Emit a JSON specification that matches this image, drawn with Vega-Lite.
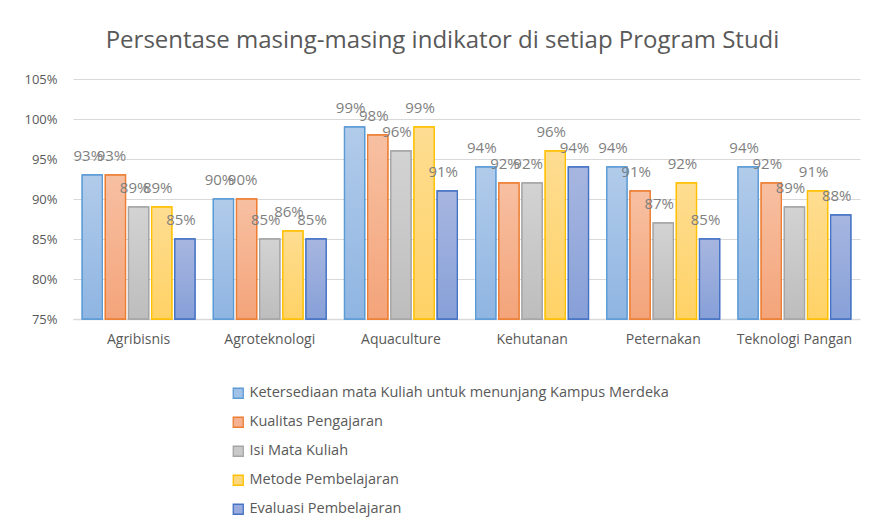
{
  "$schema": "https://vega.github.io/schema/vega-lite/v6.json",
  "autosize": "none",
  "width": 787,
  "height": 240,
  "padding": {"left": 73, "top": 79, "right": 9, "bottom": 210},
  "background": "white",
  "title": {
    "text": "Persentase masing-masing indikator di setiap Program Studi",
    "font": "Open Sans",
    "fontSize": 24,
    "fontWeight": "normal",
    "color": "#595959",
    "anchor": "middle",
    "offset": 20,
    "dx": -24
  },
  "config": {
    "view": {"stroke": null},
    "font": "Open Sans"
  },
  "data": {
    "values": [
      {"prodi": "Agribisnis", "indikator": "Ketersediaan mata Kuliah untuk menunjang Kampus Merdeka", "nilai": 0.93},
      {"prodi": "Agribisnis", "indikator": "Kualitas Pengajaran", "nilai": 0.93},
      {"prodi": "Agribisnis", "indikator": "Isi Mata Kuliah", "nilai": 0.89},
      {"prodi": "Agribisnis", "indikator": "Metode Pembelajaran", "nilai": 0.89},
      {"prodi": "Agribisnis", "indikator": "Evaluasi Pembelajaran", "nilai": 0.85},
      {"prodi": "Agroteknologi", "indikator": "Ketersediaan mata Kuliah untuk menunjang Kampus Merdeka", "nilai": 0.90},
      {"prodi": "Agroteknologi", "indikator": "Kualitas Pengajaran", "nilai": 0.90},
      {"prodi": "Agroteknologi", "indikator": "Isi Mata Kuliah", "nilai": 0.85},
      {"prodi": "Agroteknologi", "indikator": "Metode Pembelajaran", "nilai": 0.86},
      {"prodi": "Agroteknologi", "indikator": "Evaluasi Pembelajaran", "nilai": 0.85},
      {"prodi": "Aquaculture", "indikator": "Ketersediaan mata Kuliah untuk menunjang Kampus Merdeka", "nilai": 0.99},
      {"prodi": "Aquaculture", "indikator": "Kualitas Pengajaran", "nilai": 0.98},
      {"prodi": "Aquaculture", "indikator": "Isi Mata Kuliah", "nilai": 0.96},
      {"prodi": "Aquaculture", "indikator": "Metode Pembelajaran", "nilai": 0.99},
      {"prodi": "Aquaculture", "indikator": "Evaluasi Pembelajaran", "nilai": 0.91},
      {"prodi": "Kehutanan", "indikator": "Ketersediaan mata Kuliah untuk menunjang Kampus Merdeka", "nilai": 0.94},
      {"prodi": "Kehutanan", "indikator": "Kualitas Pengajaran", "nilai": 0.92},
      {"prodi": "Kehutanan", "indikator": "Isi Mata Kuliah", "nilai": 0.92},
      {"prodi": "Kehutanan", "indikator": "Metode Pembelajaran", "nilai": 0.96},
      {"prodi": "Kehutanan", "indikator": "Evaluasi Pembelajaran", "nilai": 0.94},
      {"prodi": "Peternakan", "indikator": "Ketersediaan mata Kuliah untuk menunjang Kampus Merdeka", "nilai": 0.94},
      {"prodi": "Peternakan", "indikator": "Kualitas Pengajaran", "nilai": 0.91},
      {"prodi": "Peternakan", "indikator": "Isi Mata Kuliah", "nilai": 0.87},
      {"prodi": "Peternakan", "indikator": "Metode Pembelajaran", "nilai": 0.92},
      {"prodi": "Peternakan", "indikator": "Evaluasi Pembelajaran", "nilai": 0.85},
      {"prodi": "Teknologi Pangan", "indikator": "Ketersediaan mata Kuliah untuk menunjang Kampus Merdeka", "nilai": 0.94},
      {"prodi": "Teknologi Pangan", "indikator": "Kualitas Pengajaran", "nilai": 0.92},
      {"prodi": "Teknologi Pangan", "indikator": "Isi Mata Kuliah", "nilai": 0.89},
      {"prodi": "Teknologi Pangan", "indikator": "Metode Pembelajaran", "nilai": 0.91},
      {"prodi": "Teknologi Pangan", "indikator": "Evaluasi Pembelajaran", "nilai": 0.88}
    ]
  },
  "encoding": {
    "x": {
      "field": "prodi",
      "type": "nominal",
      "sort": null,
      "scale": {"paddingInner": 0.14, "paddingOuter": 0.07},
      "axis": {
        "title": null,
        "labelAngle": 0,
        "labelFontSize": 14,
        "labelColor": "#595959",
        "labelPadding": 13,
        "ticks": false,
        "domainColor": "#d9d9d9",
        "domainWidth": 1.5
      }
    },
    "xOffset": {
      "field": "indikator",
      "type": "nominal",
      "sort": null,
      "scale": {
        "domain": ["Ketersediaan mata Kuliah untuk menunjang Kampus Merdeka", "Kualitas Pengajaran", "Isi Mata Kuliah", "Metode Pembelajaran", "Evaluasi Pembelajaran"],
        "paddingInner": 0.13
      }
    },
    "y": {
      "field": "nilai",
      "type": "quantitative",
      "scale": {"domain": [0.75, 1.05], "zero": false, "nice": false},
      "axis": {
        "title": null,
        "format": ".0%",
        "values": [0.75, 0.8, 0.85, 0.9, 0.95, 1.0, 1.05],
        "labelFontSize": 13,
        "labelColor": "#595959",
        "labelPadding": 16,
        "ticks": false,
        "domain": false,
        "gridColor": "#d9d9d9",
        "gridWidth": 1
      }
    }
  },
  "layer": [
    {
      "mark": {"type": "bar", "strokeWidth": 1.3},
      "encoding": {
        "y2": {"datum": 0.75},
        "fill": {
          "field": "indikator",
          "type": "nominal",
          "sort": null,
          "scale": {
            "domain": ["Ketersediaan mata Kuliah untuk menunjang Kampus Merdeka", "Kualitas Pengajaran", "Isi Mata Kuliah", "Metode Pembelajaran", "Evaluasi Pembelajaran"],
            "range": ["#a1c2e7", "#f5b292", "#c9c9c9", "#fed77d", "#98abdc"]
          },
          "legend": {
            "title": null,
            "orient": "none",
            "legendX": 158,
            "legendY": 307,
            "direction": "vertical",
            "symbolType": "square",
            "symbolSize": 100,
            "symbolStrokeWidth": 1.3,
            "labelFontSize": 14.5,
            "labelColor": "#595959",
            "labelLimit": 600,
            "rowPadding": 13,
            "labelOffset": 4
          }
        },
        "stroke": {
          "field": "indikator",
          "type": "nominal",
          "sort": null,
          "scale": {
            "domain": ["Ketersediaan mata Kuliah untuk menunjang Kampus Merdeka", "Kualitas Pengajaran", "Isi Mata Kuliah", "Metode Pembelajaran", "Evaluasi Pembelajaran"],
            "range": ["#5b9bd5", "#ed7d31", "#a5a5a5", "#ffc000", "#4472c4"]
          },
          "legend": null
        }
      }
    },
    {
      "transform": [{"filter": "datum.indikator === 'Ketersediaan mata Kuliah untuk menunjang Kampus Merdeka'"}],
      "mark": {"type": "bar", "strokeWidth": 1.3, "stroke": "#5b9bd5",
        "fill": {"gradient": "linear", "x1": 0, "y1": 0, "x2": 0, "y2": 1, "stops": [{"offset": 0, "color": "#b1cbea"}, {"offset": 1, "color": "#8fb5e2"}]}},
      "encoding": {"y2": {"datum": 0.75}}
    },
    {
      "transform": [{"filter": "datum.indikator === 'Kualitas Pengajaran'"}],
      "mark": {"type": "bar", "strokeWidth": 1.3, "stroke": "#ed7d31",
        "fill": {"gradient": "linear", "x1": 0, "y1": 0, "x2": 0, "y2": 1, "stops": [{"offset": 0, "color": "#f7c0a2"}, {"offset": 1, "color": "#f4a47a"}]}},
      "encoding": {"y2": {"datum": 0.75}}
    },
    {
      "transform": [{"filter": "datum.indikator === 'Isi Mata Kuliah'"}],
      "mark": {"type": "bar", "strokeWidth": 1.3, "stroke": "#a5a5a5",
        "fill": {"gradient": "linear", "x1": 0, "y1": 0, "x2": 0, "y2": 1, "stops": [{"offset": 0, "color": "#d3d3d3"}, {"offset": 1, "color": "#bdbdbd"}]}},
      "encoding": {"y2": {"datum": 0.75}}
    },
    {
      "transform": [{"filter": "datum.indikator === 'Metode Pembelajaran'"}],
      "mark": {"type": "bar", "strokeWidth": 1.3, "stroke": "#ffc000",
        "fill": {"gradient": "linear", "x1": 0, "y1": 0, "x2": 0, "y2": 1, "stops": [{"offset": 0, "color": "#fedd92"}, {"offset": 1, "color": "#ffd265"}]}},
      "encoding": {"y2": {"datum": 0.75}}
    },
    {
      "transform": [{"filter": "datum.indikator === 'Evaluasi Pembelajaran'"}],
      "mark": {"type": "bar", "strokeWidth": 1.3, "stroke": "#4472c4",
        "fill": {"gradient": "linear", "x1": 0, "y1": 0, "x2": 0, "y2": 1, "stops": [{"offset": 0, "color": "#a7b6e0"}, {"offset": 1, "color": "#87a0d8"}]}},
      "encoding": {"y2": {"datum": 0.75}}
    },
    {
      "mark": {"type": "text", "baseline": "bottom", "dy": -11, "dx": -4, "fontSize": 15, "color": "#7f7f7f"},
      "encoding": {
        "text": {"field": "nilai", "type": "quantitative", "format": ".0%"}
      }
    }
  ]
}
